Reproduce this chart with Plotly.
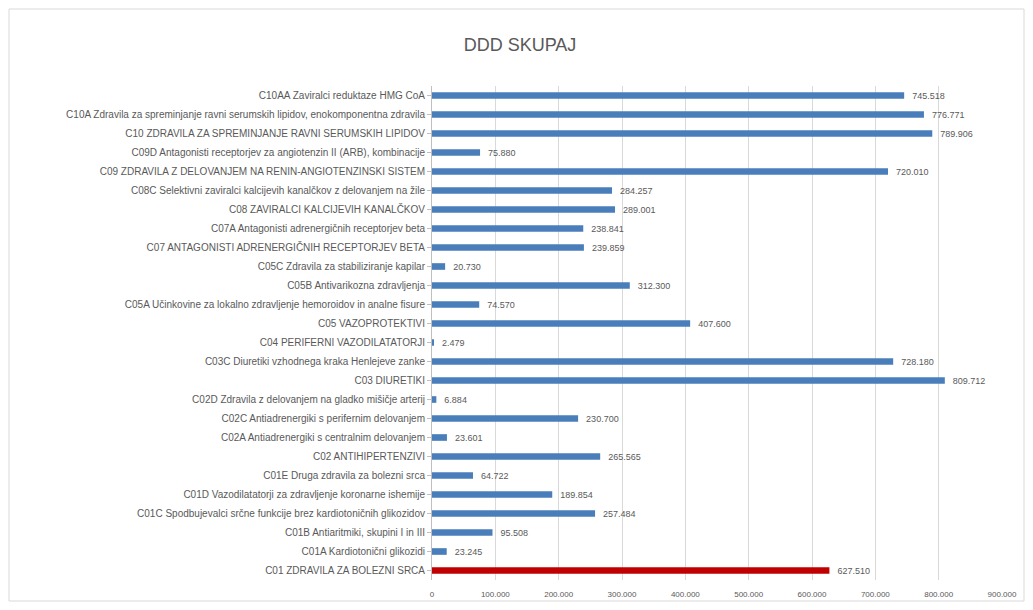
import plotly.graph_objects as go

categories = [
    "C01 ZDRAVILA ZA BOLEZNI SRCA",
    "C01A Kardiotonični glikozidi",
    "C01B Antiaritmiki, skupini I in III",
    "C01C Spodbujevalci srčne funkcije brez kardiotoničnih glikozidov",
    "C01D Vazodilatatorji za zdravljenje koronarne ishemije",
    "C01E Druga zdravila za bolezni srca",
    "C02 ANTIHIPERTENZIVI",
    "C02A Antiadrenergiki s centralnim delovanjem",
    "C02C Antiadrenergiki s perifernim delovanjem",
    "C02D Zdravila z delovanjem na gladko mišičje arterij",
    "C03 DIURETIKI",
    "C03C Diuretiki vzhodnega kraka Henlejeve zanke",
    "C04 PERIFERNI VAZODILATATORJI",
    "C05 VAZOPROTEKTIVI",
    "C05A Učinkovine za lokalno zdravljenje hemoroidov in analne fisure",
    "C05B Antivarikozna zdravljenja",
    "C05C Zdravila za stabiliziranje kapilar",
    "C07 ANTAGONISTI ADRENERGIČNIH RECEPTORJEV BETA",
    "C07A Antagonisti adrenergičnih receptorjev beta",
    "C08 ZAVIRALCI KALCIJEVIH KANALČKOV",
    "C08C Selektivni zaviralci kalcijevih kanalčkov z delovanjem na žile",
    "C09 ZDRAVILA Z DELOVANJEM NA RENIN-ANGIOTENZINSKI SISTEM",
    "C09D Antagonisti receptorjev za angiotenzin II (ARB), kombinacije",
    "C10 ZDRAVILA ZA SPREMINJANJE RAVNI SERUMSKIH LIPIDOV",
    "C10A Zdravila za spreminjanje ravni serumskih lipidov, enokomponentna zdravila",
    "C10AA Zaviralci reduktaze HMG CoA",
]

values = [
    627510, 23245, 95508, 257484, 189854, 64722, 265565, 23601, 230700, 6884,
    809712, 728180, 2479, 407600, 74570, 312300, 20730, 239859, 238841, 289001,
    284257, 720010, 75880, 789906, 776771, 745518,
]

tick_vals = [0, 100000, 200000, 300000, 400000, 500000, 600000, 700000, 800000, 900000]

colors = ["#C00000"] + ["#4A7EBB"] * (len(categories) - 1)

W, H = 1017, 594
L, R, T, B = 424, 23, 78, 22
pw = W - L - R
ph = H - T - B

fig = go.Figure(
    go.Bar(
        x=values,
        y=categories,
        orientation="h",
        marker=dict(color=colors, line=dict(width=0)),
        width=0.35,
        texttemplate="\u00a0\u00a0%{x:,.0f}",
        textposition="outside",
        constraintext="none",
        textfont=dict(size=9, color="#595959", family="Liberation Sans"),
        cliponaxis=False,
    )
)

fig.update_layout(
    width=W,
    height=H,
    paper_bgcolor="white",
    plot_bgcolor="white",
    separators=",.",
    margin=dict(l=L, r=R, t=T, b=B),
    title=dict(
        text="DDD SKUPAJ",
        x=512 / W,
        xanchor="center",
        y=1 - 37 / H,
        yanchor="middle",
        font=dict(size=18, color="#595959", family="Liberation Sans"),
    ),
    font=dict(family="Liberation Sans", size=8, color="#595959"),
    showlegend=False,
)

fig.update_xaxes(
    range=[0, 900000],
    tickvals=tick_vals,
    tickformat=",.0f",
    showgrid=True,
    gridcolor="#D9D9D9",
    gridwidth=1,
    zeroline=False,
    showline=False,
    tickfont=dict(size=8, color="#595959"),
    ticks="",
    ticklabelstandoff=8,
    automargin=False,
)

fig.update_yaxes(
    categoryorder="array",
    categoryarray=categories,
    showline=True,
    linecolor="#BFBFBF",
    linewidth=1,
    ticks="outside",
    ticklen=4,
    tickcolor="#BFBFBF",
    tickfont=dict(size=10, color="#595959"),
    showgrid=False,
    automargin=False,
)

fig.add_shape(
    type="rect",
    xref="paper",
    yref="paper",
    x0=(1 - L) / pw,
    x1=(W - 1 - L) / pw,
    y0=(H - B - (H - 1)) / ph,
    y1=(H - B - 1) / ph,
    line=dict(color="#D9D9D9", width=1),
    fillcolor="rgba(0,0,0,0)",
)

fig.write_html("out.html")
